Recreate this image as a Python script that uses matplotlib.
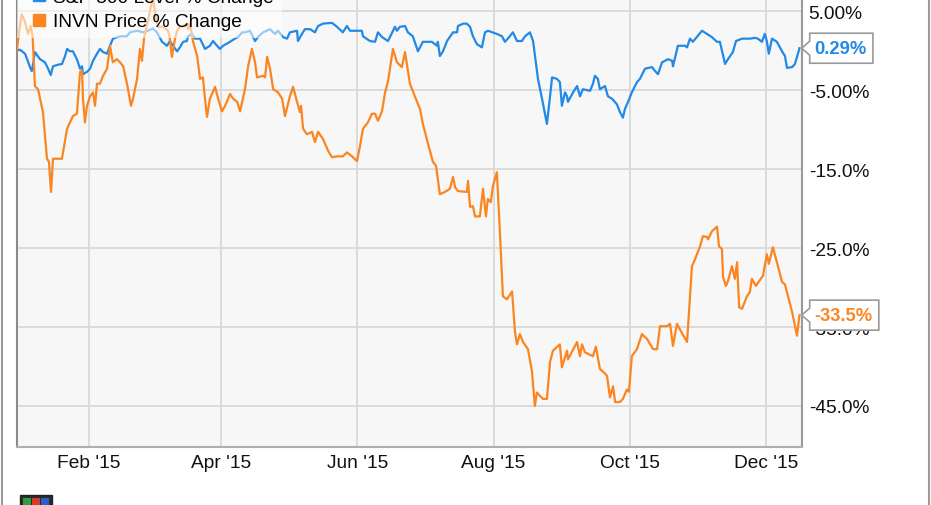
"""
Recreate the INVN vs S&P 500 percent change chart (2015).
"""

import matplotlib

matplotlib.use("Agg")

import pandas as pd
import matplotlib.pyplot as plt
from matplotlib.lines import Line2D
from matplotlib.patches import Polygon, Rectangle
from matplotlib.transforms import IdentityTransform

plt.rcParams["font.family"] = ["Liberation Sans", "DejaVu Sans"]

START = pd.Timestamp("2015-01-01")

# days since 2015-01-01
SP_DAYS = [
    -1.3, 0.1, 2.4, 4.6, 5.4, 6.0, 6.8, 9.1, 11.3, 12.7, 13.9, 14.9, 17.1,
    18.9, 20.3, 21.2, 22.5, 23.8, 25.6, 27.0, 27.9, 28.3, 30.1, 31.5, 32.8,
    34.6, 35.9, 37.3, 39.1, 40.4, 41.7, 44.9, 48.0, 49.3, 52.5, 55.2, 57.4,
    59.6, 61.4, 63.7, 65.9, 67.2, 68.6, 70.4, 71.7, 73.1, 74.8, 75.3, 77.1,
    78.4, 80.7, 82.9, 85.1, 86.5, 88.3, 89.6, 91.0, 94.1, 96.3, 97.7, 99.5,
    100.8, 103.0, 105.3, 106.6, 108.9, 112.0, 114.2, 115.6, 117.8, 119.6,
    120.9, 124.1, 124.5, 126.3, 127.6, 129.9, 132.1, 133.5, 135.7, 139.7,
    142.0, 144.6, 146.4, 147.8, 150.9, 153.1, 153.6, 156.7, 159.0, 160.3,
    162.1, 164.8, 167.9, 168.8, 170.1, 172.4, 173.7, 175.9, 178.2, 180.4,
    184.4, 186.7, 187.1, 188.0, 189.4, 191.2, 193.9, 195.7, 196.1, 198.4,
    200.1, 201.5, 202.8, 204.6, 206.8, 208.2, 209.5, 213.5, 215.8, 217.1,
    218.4, 220.7, 222.5, 224.7, 226.1, 228.3, 229.7, 231.9, 233.7, 235.9,
    237.3, 238.2, 240.4, 241.7, 242.6, 244.0, 244.9, 245.3, 247.6, 249.4,
    250.7, 252.0, 255.2, 256.5, 257.4, 258.7, 259.6, 261.9, 263.2, 265.0,
    267.2, 268.6, 269.9, 270.8, 272.2, 273.9, 276.2, 277.5, 279.8, 282.9,
    284.3, 285.6, 287.4, 290.1, 291.9, 292.3, 294.5, 297.7, 298.6, 299.9,
    301.2, 305.3, 307.5, 309.7, 312.0, 313.3, 315.6, 316.9, 319.1, 320.5,
    323.2, 326.7, 329.0, 330.3, 332.1, 333.4, 334.3, 335.2, 336.6, 338.8,
    341.1, 342.4, 343.3, 345.6, 346.9, 348.9,
]
SP_CHANGE = [
    0.0, 0.1, -0.4, -2.1, -2.6, -1.7, -0.2, -1.1, -1.5, -2.3, -3.1, -2.0, -1.8,
    -1.7, -0.7, 0.2, -0.1, -0.1, -1.1, -2.3, -2.0, -3.0, -2.7, -2.3, -1.3,
    -0.4, 0.2, -0.2, -0.4, 0.6, 1.5, 1.8, 1.8, 2.3, 2.5, 2.3, 2.5,
    2.8, 2.3, 1.1, 0.6, 1.2, 0.6, -0.1, 0.4, 1.1, 1.2, 1.8, 2.1,
    1.5, 1.5, 0.2, 0.6, 1.2, 0.6, 0.2, 0.6, 1.1, 1.5, 1.7, 2.3,
    2.3, 2.5, 1.2, 1.7, 2.3, 2.7, 2.1, 2.5, 1.7, 1.5,
    2.3, 2.5, 1.2, 2.1, 2.7, 2.7, 2.3, 3.1, 3.4, 3.5,
    3.0, 2.3, 3.1, 2.5, 2.5, 2.5, 1.8, 1.2, 1.1, 2.3,
    1.7, 1.2, 3.0, 2.5, 3.0, 3.1, 2.3, 1.8, -0.1, 1.1,
    1.1, 0.6, 1.1, -0.7, -0.1, 1.2, 2.3, 2.3, 3.1, 3.4,
    3.4, 3.0, 1.8, 0.8, 0.4, 2.3, 2.5, 2.1, 1.8, 1.1,
    1.5, 2.3, 1.2, 1.2, 1.8, 2.3, 1.2, -3.6, -6.1, -9.3,
    -5.8, -3.4, -3.6, -4.0, -7.0, -5.3, -5.8, -6.5, -5.3, -4.5,
    -5.8, -4.9, -5.1, -4.2, -3.2, -3.6, -4.9, -4.5, -5.8, -6.1,
    -6.8, -7.8, -8.5, -7.4, -6.5, -5.3, -4.0, -3.6, -2.3, -2.1,
    -2.6, -3.0, -1.5, -1.1, -1.3, -2.0, 0.6, 0.6, 0.4, 1.5,
    1.1, 2.5, 2.1, 1.7, 1.1, 1.1, -1.7, -1.1, -0.2, 1.2,
    1.5, 1.5, 1.6, 1.5, 1.1, 2.1, 1.2, -0.4, 1.5, 1.1,
    -0.1, -0.7, -2.2, -2.1, -1.7, 0.29,
]

INVN_DAYS = [
    -1.3, -0.3, 0.9, 2.4, 3.7, 4.9, 5.8, 6.8, 8.2, 10.4, 12.2, 13.1, 14.0,
    14.9, 18.9, 21.2, 23.8, 25.6, 26.1, 27.0, 27.9, 28.3, 29.2, 30.1, 31.5,
    32.8, 33.7, 34.6, 35.9, 37.3, 39.1, 40.4, 41.7, 43.5, 44.9, 46.3, 48.0,
    49.8, 50.7, 52.5, 53.8, 54.7, 55.6, 56.9, 58.3, 59.6, 60.5, 61.9, 64.1,
    66.4, 67.2, 68.1, 69.5, 70.4, 71.7, 73.1, 74.8, 75.3, 76.2, 77.6, 79.4,
    80.7, 82.0, 82.9, 83.8, 85.1, 87.4, 88.8, 90.5, 91.9, 94.1, 95.5, 97.3,
    98.6, 100.8, 102.2, 103.9, 105.3, 106.2, 108.9, 109.8, 110.7, 112.0,
    113.4, 115.6, 117.4, 118.7, 120.9, 122.3, 124.1, 125.4, 125.9, 126.8,
    128.5, 130.8, 132.1, 133.5, 135.7, 138.0, 139.7, 142.0, 144.6, 146.4,
    148.7, 150.9, 152.2, 153.6, 155.8, 157.6, 159.0, 160.3, 162.1, 163.5,
    164.8, 167.0, 168.8, 171.0, 172.4, 174.6, 176.8, 179.1, 180.4, 182.7,
    184.9, 186.3, 188.0, 190.3, 192.5, 193.9, 194.8, 196.1, 200.1, 200.6,
    201.5, 202.8, 203.7, 205.9, 207.3, 208.6, 209.5, 210.8, 211.7, 213.5,
    214.9, 216.2, 218.0, 220.3, 221.6, 222.5, 223.8, 225.2, 227.4, 229.2,
    230.5, 231.4, 234.1, 235.9, 237.3, 238.6, 241.7, 242.6, 244.9, 245.3,
    249.4, 250.7, 251.6, 252.9, 256.5, 257.8, 259.6, 261.9, 262.8, 264.1,
    265.5, 266.4, 268.6, 269.9, 271.7, 272.6, 273.9, 276.2, 278.4, 280.7,
    283.4, 285.2, 286.5, 289.7, 291.0, 292.3, 294.1, 295.4, 298.6, 300.8,
    302.2, 304.4, 305.7, 307.5, 308.0, 309.7, 312.0, 312.9, 314.2, 314.7,
    316.0, 316.9, 318.7, 320.0, 321.0, 321.9, 323.2, 325.4, 326.7, 327.6,
    329.4, 332.6, 334.3, 335.2, 337.0, 338.8, 341.1, 342.4, 345.6, 347.8,
    348.9,
]
INVN_CHANGE = [
    0.0, 2.3, 4.6, 3.6, 2.1, 3.1, 1.7, -4.5, -4.9, -7.8, -13.7, -14.1, -17.9,
    -13.7, -13.7, -9.9, -8.3, -8.0, -6.1, -2.7, -2.6, -6.1, -9.1, -7.0, -5.8,
    -5.3, -7.0, -4.2, -4.2, -3.2, -2.3, 0.6, -1.5, -1.1, -1.5, -2.0, -4.2,
    -7.0, -6.1, -3.6, 0.2, -1.3, 1.5, 3.1, 5.0, 6.8, 4.9, 3.0, 3.0,
    2.5, 1.5, -0.8, 1.5, 2.5, 3.0, 3.1, 3.4, 2.7, 3.4, 1.1, -0.7,
    -3.6, -3.4, -6.1, -8.4, -6.1, -4.6, -6.1, -7.7, -7.0, -5.5, -6.1, -6.5,
    -7.7, -4.9, -2.0, 0.2, -1.5, -3.4, -3.2, -3.4, -0.8, -2.3,
    -4.9, -5.3, -6.1, -8.3, -5.8, -4.6, -6.5, -7.8, -7.0, -9.9,
    -10.6, -10.3, -11.6, -10.3, -11.2, -12.7, -13.5, -13.4, -13.4, -12.9,
    -13.4, -14.0, -12.2, -9.9, -9.1, -8.0, -8.0, -8.9, -7.7, -5.3,
    -3.9, 0.2, -1.5, -2.1, -0.2, -4.2, -5.8, -7.4, -9.3, -11.8,
    -14.1, -14.6, -18.2, -17.9, -17.5, -16.0, -17.3, -17.8, -17.9, -16.5,
    -19.8, -19.7, -21.0, -21.0, -17.5, -21.0, -18.8, -19.2, -17.2, -15.4,
    -23.2, -31.1, -31.5, -30.5, -35.6, -37.2, -35.9, -36.9, -37.8, -40.6,
    -45.0, -43.3, -44.1, -44.1, -39.4, -38.0, -37.2, -40.1, -38.0, -39.1,
    -36.9, -38.7, -37.2, -38.2, -38.7, -37.5, -40.3, -40.9, -41.2, -43.9,
    -42.5, -44.5, -44.5, -44.1, -42.9, -43.2, -38.7, -37.8, -35.9, -36.5,
    -37.8, -37.8, -34.9, -34.9, -34.6, -37.4, -34.6, -35.3, -36.9, -27.3,
    -26.4, -24.8, -23.5, -23.6, -23.9, -22.9, -22.3, -24.8, -25.1, -28.7,
    -29.8, -29.2, -27.3, -28.9, -26.8, -32.5, -32.7, -31.1, -30.6, -28.9,
    -29.8, -28.5, -25.8, -27.0, -24.9, -26.8, -29.3, -29.6, -33.1, -36.1,
    -33.5,
]

SERIES_LABELS = ["S&P 500 Level % Change", "INVN Price % Change"]
LAST_LABELS = ["0.29%", "-33.5%"]
X_TICK_DATES = ["2015-02-01", "2015-04-01", "2015-06-01",
                "2015-08-01", "2015-10-01", "2015-12-01"]
X_TICK_LABELS = ["Feb '15", "Apr '15", "Jun '15", "Aug '15", "Oct '15", "Dec '15"]
Y_TICKS = [5, -5, -15, -25, -35, -45]
Y_TICK_LABELS = ["5.00%", "-5.00%", "-15.0%", "-25.0%", "-35.0%", "-45.0%"]

BLUE = "#2189e6"
ORANGE = "#fb8520"
FONT_SIZE = 13.8


def _to_dates(days):
    return START + pd.to_timedelta(days, unit="D")


def _add_flag(fig, ax, renderer, y_value, text, color):
    """Draw the value tag that points at the end of a series."""
    x0 = ax.bbox.x1
    y0 = ax.transData.transform((0, y_value))[1]
    txt = fig.text(
        x0 + 13, y0, text,
        transform=IdentityTransform(),
        color=color, fontsize=13.2, fontweight="bold",
        ha="left", va="center", zorder=6,
    )
    width = txt.get_window_extent(renderer).width
    left, right, half = x0 + 8, x0 + 13 + width + 6, 15
    verts = [
        (x0, y0), (left, y0 + 7), (left, y0 + half), (right, y0 + half),
        (right, y0 - half), (left, y0 - half), (left, y0 - 7),
    ]
    fig.add_artist(Polygon(
        verts, closed=True, transform=IdentityTransform(),
        facecolor="white", edgecolor="#9a9a9a", lw=1.2, zorder=5,
    ))


def main():
    fig = plt.figure(figsize=(9.31, 5.06), dpi=100)
    fig.patch.set_facecolor("white")
    ax = fig.add_axes([16.6 / 931, 1 - 448 / 506, (801.7 - 16.6) / 931, 448 / 506])
    ax.set_facecolor("#f7f7f7")

    ax.plot(_to_dates(SP_DAYS), SP_CHANGE, color=BLUE, lw=1.6, zorder=3)
    ax.plot(_to_dates(INVN_DAYS), INVN_CHANGE, color=ORANGE, lw=1.6, zorder=3)

    ax.set_xlim(START + pd.Timedelta(days=-1.39), START + pd.Timedelta(days=349.9))
    ax.set_ylim(-50.19, 6.52)

    ax.set_xticks(pd.to_datetime(X_TICK_DATES))
    ax.set_xticklabels(X_TICK_LABELS)
    ax.set_yticks(Y_TICKS)
    ax.set_yticklabels(Y_TICK_LABELS)
    ax.yaxis.tick_right()
    ax.tick_params(axis="both", length=0, labelsize=FONT_SIZE, colors="#111111")
    ax.tick_params(axis="y", pad=5)
    ax.tick_params(axis="x", pad=5)
    ax.grid(color="#d9d9d9", lw=1.3)
    ax.set_axisbelow(True)

    ax.spines["top"].set_visible(False)
    ax.spines["left"].set_color("#8a8a8a")
    ax.spines["right"].set_color("#9a9a9a")
    ax.spines["bottom"].set_color("#b0b0b0")
    for side in ("left", "right", "bottom"):
        ax.spines[side].set_linewidth(1.5)

    handles = [
        Line2D([], [], marker="s", ls="none", markersize=8.5, color=c)
        for c in (BLUE, ORANGE)
    ]
    leg = fig.legend(
        handles, SERIES_LABELS,
        loc="lower left", bbox_to_anchor=(17 / 931, 1 - 39 / 506),
        bbox_transform=fig.transFigure, borderaxespad=0,
        fontsize=FONT_SIZE, handlelength=1.5, handletextpad=0.0,
        labelspacing=0.36, borderpad=0.4, fancybox=False,
    )
    leg.get_frame().set_facecolor("white")
    leg.get_frame().set_alpha(0.55)
    leg.get_frame().set_edgecolor("none")

    # outer frame of the picture
    for xf in (1.5 / 931, 928.5 / 931):
        fig.add_artist(Line2D([xf, xf], [0, 1], transform=fig.transFigure,
                              color="#9a9a9a", lw=1.5))

    # small logo at the bottom left
    fig.add_artist(Rectangle((20 / 931, 0), 32 / 931, 10 / 506,
                             transform=fig.transFigure, facecolor="#2a2a2a",
                             edgecolor="#222222", lw=1))
    for i, c in enumerate(["#2e9e3e", "#d23a2a", "#2a5fc8"]):
        fig.add_artist(Rectangle(((23 + i * 9) / 931, 0), 8 / 931, 7 / 506,
                                 transform=fig.transFigure, facecolor=c, lw=0))

    fig.canvas.draw()
    renderer = fig.canvas.get_renderer()
    _add_flag(fig, ax, renderer, SP_CHANGE[-1], LAST_LABELS[0], BLUE)
    _add_flag(fig, ax, renderer, INVN_CHANGE[-1], LAST_LABELS[1], ORANGE)

    fig.savefig("out.png", dpi=100)
    plt.close(fig)


if __name__ == "__main__":
    main()
